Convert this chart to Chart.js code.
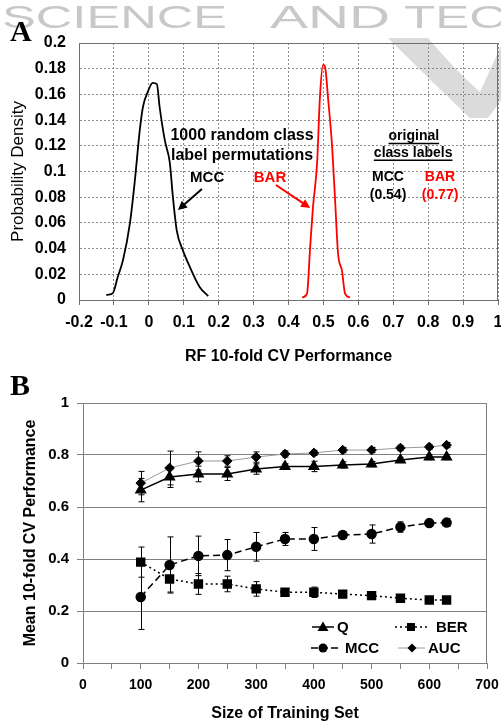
<!DOCTYPE html>
<html lang="en">
<head>
    <meta charset="UTF-8">
    <title>RF permutation test and learning curves</title>
    <script src="https://cdn.jsdelivr.net/npm/chart.js@4.4.0/dist/chart.umd.min.js"></script>
    <style>
        body {
            margin: 0;
            background: #fff;
        }
        canvas {
            display: block;
        }
        .tag {
            position: absolute;
            left: 10px;
            font: bold 30px "Liberation Serif", "Times New Roman", serif;
            line-height: 30px;
            color: #000;
        }
    </style>
</head>
<body>
<canvas id="densityChart" width="501" height="372"></canvas>
<canvas id="curveChart" width="501" height="351"></canvas>
<div class="tag" style="top:16px">A</div>
<div class="tag" style="top:370px">B</div>
<script>
    // Panel A: density of RF 10-fold CV performance over 1000 label permutations
    const mccPermX = [-0.122, -0.104, -0.089, -0.074, -0.054, -0.040, -0.026, -0.017, -0.003, 0.011,
                      0.023, 0.031, 0.046, 0.060, 0.069, 0.080, 0.097, 0.117, 0.146, 0.170];
    const mccPermY = [0.004, 0.005, 0.018, 0.031, 0.060, 0.093, 0.132, 0.150, 0.162, 0.169,
                      0.168, 0.150, 0.124, 0.107, 0.080, 0.054, 0.039, 0.026, 0.010, 0.003];
    const barPermX = [0.439, 0.453, 0.462, 0.470, 0.482, 0.490, 0.499, 0.505, 0.513, 0.525,
                      0.533, 0.542, 0.553, 0.562, 0.576];
    const barPermY = [0.002, 0.005, 0.041, 0.072, 0.107, 0.158, 0.183, 0.181, 0.158, 0.119,
                      0.080, 0.036, 0.023, 0.005, 0.002];

    // Panel B: mean 10-fold CV performance vs training set size
    const trainSizes = [100, 150, 200, 250, 300, 350, 400, 450, 500, 550, 600, 630];
    const qMean   = [0.665, 0.715, 0.727, 0.727, 0.746, 0.756, 0.756, 0.762, 0.765, 0.781, 0.792, 0.792];
    const qErr    = [0.045, 0.040, 0.030, 0.025, 0.020, 0.010, 0.020, 0.012, 0.010, 0.010, 0.010, 0.010];
    const berMean = [0.388, 0.323, 0.304, 0.304, 0.285, 0.272, 0.272, 0.265, 0.259, 0.249, 0.242, 0.242];
    const berErr  = [0.058, 0.050, 0.040, 0.030, 0.028, 0.010, 0.020, 0.010, 0.015, 0.008, 0.008, 0.008];
    const mccMean = [0.254, 0.377, 0.412, 0.415, 0.447, 0.477, 0.477, 0.492, 0.496, 0.523, 0.538, 0.540];
    const mccErr  = [0.125, 0.108, 0.076, 0.060, 0.055, 0.025, 0.044, 0.012, 0.035, 0.020, 0.012, 0.015];
    const aucMean = [0.692, 0.750, 0.777, 0.777, 0.792, 0.804, 0.808, 0.819, 0.819, 0.827, 0.831, 0.838];
    const aucErr  = [0.045, 0.065, 0.035, 0.020, 0.020, 0.012, 0.010, 0.010, 0.010, 0.010, 0.010, 0.010];

    const FONT = '"Liberation Sans", Arial, sans-serif';
    const toPoints = (xs, ys) => xs.map((x, i) => ({ x: x, y: ys[i] }));
    const trim = v => Number(v.toFixed(2)).toString();
    // keep the plot area where the axis boxes put it (no extra room for edge labels)
    const noEdgePad = s => { s.paddingLeft = 0; s.paddingRight = 0; };

    // watermark in the scanned page header
    function drawWatermark(ctx) {
        ctx.save();
        ctx.fillStyle = 'rgba(195,195,195,0.6)';
        ctx.beginPath();
        ctx.moveTo(388, 38);
        ctx.lineTo(428, 38);
        ctx.quadraticCurveTo(455, 70, 480, 92);
        ctx.lineTo(501, 46);
        ctx.lineTo(501, 100);
        ctx.lineTo(488, 118);
        ctx.lineTo(470, 118);
        ctx.quadraticCurveTo(425, 75, 388, 38);
        ctx.closePath();
        ctx.fill();
        ctx.fillStyle = 'rgba(190,190,190,0.85)';
        ctx.font = '32px ' + FONT;
        [['SCIENCE', 2, 227], ['AND', 270, 390], ['TEC', 404, 506]].forEach(([w, x0, x1]) => {
            const m = ctx.measureText(w).width;
            ctx.setTransform((x1 - x0) / m, 0, 0, 1, x0, 28);
            ctx.fillText(w, 0, 0);
        });
        ctx.restore();
        ctx.beginPath();
    }

    function drawArrow(ctx, x1, y1, x2, y2, color) {
        const a = Math.atan2(y2 - y1, x2 - x1);
        ctx.save();
        ctx.setLineDash([]);
        ctx.strokeStyle = color;
        ctx.fillStyle = color;
        ctx.lineWidth = 2;
        ctx.beginPath();
        ctx.moveTo(x1, y1);
        ctx.lineTo(x2 - 6 * Math.cos(a), y2 - 6 * Math.sin(a));
        ctx.stroke();
        ctx.beginPath();
        ctx.moveTo(x2, y2);
        ctx.lineTo(x2 - 9 * Math.cos(a) + 4.5 * Math.sin(a), y2 - 9 * Math.sin(a) - 4.5 * Math.cos(a));
        ctx.lineTo(x2 - 9 * Math.cos(a) - 4.5 * Math.sin(a), y2 - 9 * Math.sin(a) + 4.5 * Math.cos(a));
        ctx.closePath();
        ctx.fill();
        ctx.restore();
    }

    function drawFrame(ctx, a, color) {
        ctx.save();
        ctx.setLineDash([]);
        ctx.strokeStyle = color;
        ctx.lineWidth = 1;
        ctx.beginPath();
        ctx.moveTo(a.left, a.top + 0.5);
        ctx.lineTo(a.right - 0.5, a.top + 0.5);
        ctx.lineTo(a.right - 0.5, a.bottom);
        ctx.stroke();
        ctx.restore();
    }

    // Panel A watermark, frame and annotations (placed in data units)
    const notesA = {
        id: 'notesA',
        beforeDraw(chart) { drawWatermark(chart.ctx); },
        afterDraw(chart) {
            drawFrame(chart.ctx, chart.chartArea, '#707070');
            const { ctx, scales: { x, y } } = chart;
            const px = v => x.getPixelForValue(v), py = v => y.getPixelForValue(v);
            ctx.save();
            ctx.textAlign = 'center';
            ctx.textBaseline = 'middle';
            ctx.fillStyle = '#000';
            ctx.font = 'bold 16px ' + FONT;
            ctx.fillText('1000 random class', px(0.267), py(0.1276));
            ctx.fillText('label permutations', px(0.267), py(0.112));
            ctx.font = 'bold 15px ' + FONT;
            ctx.fillText('MCC', px(0.167), py(0.095));
            ctx.fillStyle = '#ff0000';
            ctx.fillText('BAR', px(0.347), py(0.095));
            drawArrow(ctx, px(0.152), py(0.0864), px(0.0835), py(0.070), '#000');
            drawArrow(ctx, px(0.364), py(0.0895), px(0.462), py(0.0716), '#ff0000');

            ctx.font = 'bold 14px ' + FONT;
            ctx.fillStyle = '#000';
            ctx.strokeStyle = '#000';
            ctx.lineWidth = 1.5;
            ctx.setLineDash([]);
            [['original', 0.759, 0.1276], ['class labels', 0.757, 0.1145]].forEach(([t, vx, vy]) => {
                const w = ctx.measureText(t).width;
                ctx.fillText(t, px(vx), py(vy));
                ctx.beginPath();
                ctx.moveTo(px(vx) - w / 2, py(vy) + 7.5);
                ctx.lineTo(px(vx) + w / 2, py(vy) + 7.5);
                ctx.stroke();
            });
            ctx.fillText('MCC', px(0.685), py(0.0957));
            ctx.fillText('(0.54)', px(0.685), py(0.0817));
            ctx.fillStyle = '#ff0000';
            ctx.fillText('BAR', px(0.834), py(0.0957));
            ctx.fillText('(0.77)', px(0.834), py(0.0817));
            ctx.restore();
        }
    };

    new Chart(document.getElementById('densityChart'), {
        type: 'scatter',
        data: {
            datasets: [{
                label: 'MCC',
                data: toPoints(mccPermX, mccPermY),
                showLine: true,
                borderColor: '#000',
                borderWidth: 1.8,
                pointRadius: 0,
                cubicInterpolationMode: 'monotone'
            }, {
                label: 'BAR',
                data: toPoints(barPermX, barPermY),
                showLine: true,
                borderColor: '#ff0000',
                borderWidth: 1.8,
                pointRadius: 0,
                cubicInterpolationMode: 'monotone'
            }]
        },
        options: {
            responsive: false,
            animation: false,
            layout: { padding: { top: 43, right: 3, left: 0, bottom: 0 } },
            plugins: { legend: { display: false }, tooltip: { enabled: false } },
            scales: {
                x: {
                    type: 'linear', min: -0.2, max: 1,
                    afterFit: s => { s.height = 72; noEdgePad(s); },
                    ticks: {
                        stepSize: 0.1, autoSkip: false, maxRotation: 0, padding: 8,
                        color: '#000', font: { family: FONT, size: 16, weight: 'bold' },
                        callback: v => trim(v)
                    },
                    grid: { color: '#8c8c8c', tickColor: '#707070', tickLength: 5 },
                    border: { color: '#707070', dash: [2, 2] },
                    title: {
                        display: true, text: 'RF 10-fold CV Performance', color: '#000',
                        font: { family: FONT, size: 16, weight: 'bold' },
                        padding: { top: 0, bottom: 6 }
                    }
                },
                y: {
                    min: 0, max: 0.2,
                    afterFit: s => { s.width = 79; },
                    ticks: {
                        stepSize: 0.02, padding: 13,
                        color: '#000', font: { family: FONT, size: 16, weight: 'bold' },
                        callback: v => trim(v)
                    },
                    grid: { color: '#8c8c8c', drawTicks: false },
                    border: { color: '#707070', dash: [2, 2] },
                    title: {
                        display: true, text: 'Probability Density', color: '#000',
                        font: { family: FONT, size: 17 },
                        padding: { top: 8, bottom: 0 }
                    }
                }
            }
        },
        plugins: [notesA]
    });

    // Panel B
    const errByLabel = { Q: qErr, BER: berErr, MCC: mccErr, AUC: aucErr };

    function marker(ctx, style, x, y) {
        ctx.beginPath();
        if (style === 'triangle') {
            ctx.moveTo(x, y - 5.5); ctx.lineTo(x + 5.5, y + 4); ctx.lineTo(x - 5.5, y + 4);
        } else if (style === 'rect') {
            ctx.rect(x - 4, y - 4, 8, 8);
        } else if (style === 'circle') {
            ctx.arc(x, y, 4.5, 0, Math.PI * 2);
        } else {
            ctx.moveTo(x, y - 4.5); ctx.lineTo(x + 4.5, y); ctx.lineTo(x, y + 4.5); ctx.lineTo(x - 4.5, y);
        }
        ctx.closePath();
        ctx.fill();
    }

    const extrasB = {
        id: 'extrasB',
        beforeDatasetsDraw(chart) {
            // error bars, drawn under the markers
            const { ctx, scales: { x, y } } = chart;
            ctx.save();
            ctx.setLineDash([]);
            ctx.strokeStyle = '#000';
            ctx.lineWidth = 1;
            chart.data.datasets.forEach(ds => {
                const errs = errByLabel[ds.label];
                ds.data.forEach((p, i) => {
                    const cx = Math.round(x.getPixelForValue(p.x)) + 0.5;
                    const top = y.getPixelForValue(p.y + errs[i]);
                    const bot = y.getPixelForValue(p.y - errs[i]);
                    ctx.beginPath();
                    ctx.moveTo(cx, top); ctx.lineTo(cx, bot);
                    ctx.moveTo(cx - 3, top); ctx.lineTo(cx + 3, top);
                    ctx.moveTo(cx - 3, bot); ctx.lineTo(cx + 3, bot);
                    ctx.stroke();
                });
            });
            ctx.restore();
        },
        afterDraw(chart) {
            drawFrame(chart.ctx, chart.chartArea, '#808080');
            const ctx = chart.ctx;
            const items = [
                { text: 'Q', style: 'triangle', dash: [], color: '#000', x1: 312, x2: 334, mx: 323, tx: 337, y: 255 },
                { text: 'BER', style: 'rect', dash: [2, 3], color: '#000', x1: 395, x2: 427, mx: 411, tx: 436, y: 255 },
                { text: 'MCC', style: 'circle', dash: [7, 3], color: '#000', x1: 311, x2: 340, mx: 323, tx: 345, y: 276 },
                { text: 'AUC', style: 'rectRot', dash: [], color: '#9a9a9a', x1: 398, x2: 425, mx: 412, tx: 428, y: 276 }
            ];
            ctx.save();
            ctx.font = 'bold 15px ' + FONT;
            ctx.textBaseline = 'middle';
            items.forEach(it => {
                ctx.strokeStyle = it.color;
                ctx.lineWidth = it.color === '#000' ? 1.5 : 1;
                ctx.setLineDash(it.dash);
                ctx.beginPath();
                ctx.moveTo(it.x1, it.y); ctx.lineTo(it.x2, it.y);
                ctx.stroke();
                ctx.setLineDash([]);
                ctx.fillStyle = '#000';
                marker(ctx, it.style, it.mx, it.y);
                ctx.fillText(it.text, it.tx, it.y + 1);
            });
            ctx.restore();
        }
    };

    new Chart(document.getElementById('curveChart'), {
        type: 'scatter',
        data: {
            datasets: [{
                label: 'Q',
                data: toPoints(trainSizes, qMean),
                showLine: true,
                borderColor: '#000', borderWidth: 1.5,
                pointStyle: 'triangle', pointRadius: 5.5,
                pointBackgroundColor: '#000', pointBorderColor: '#000'
            }, {
                label: 'BER',
                data: toPoints(trainSizes, berMean),
                showLine: true,
                borderColor: '#000', borderWidth: 1.5, borderDash: [2, 3],
                pointStyle: 'rect', pointRadius: 5.6,
                pointBackgroundColor: '#000', pointBorderColor: '#000'
            }, {
                label: 'MCC',
                data: toPoints(trainSizes, mccMean),
                showLine: true,
                borderColor: '#000', borderWidth: 1.5, borderDash: [7, 4],
                pointStyle: 'circle', pointRadius: 4.5,
                pointBackgroundColor: '#000', pointBorderColor: '#000'
            }, {
                label: 'AUC',
                data: toPoints(trainSizes, aucMean),
                showLine: true,
                borderColor: '#9a9a9a', borderWidth: 1,
                pointStyle: 'rectRot', pointRadius: 4.8,
                pointBackgroundColor: '#000', pointBorderColor: '#000'
            }]
        },
        options: {
            responsive: false,
            animation: false,
            layout: { padding: { top: 31, right: 14, left: 0, bottom: 0 } },
            plugins: { legend: { display: false }, tooltip: { enabled: false } },
            scales: {
                x: {
                    type: 'linear', min: 0, max: 700,
                    afterFit: s => { s.height = 60; noEdgePad(s); },
                    ticks: {
                        stepSize: 50, autoSkip: false, maxRotation: 0, padding: 8,
                        color: '#000', font: { family: FONT, size: 14, weight: 'bold' },
                        callback: v => (v % 100 === 0 ? String(v) : '')
                    },
                    grid: { drawOnChartArea: false, color: '#808080', tickLength: 6 },
                    border: { color: '#808080' },
                    title: {
                        display: true, text: 'Size of Training Set', color: '#000',
                        font: { family: FONT, size: 16, weight: 'bold' },
                        padding: { top: 0, bottom: 0 }
                    }
                },
                y: {
                    min: 0, max: 1,
                    afterFit: s => { s.width = 83; },
                    ticks: {
                        stepSize: 0.2, padding: 8,
                        color: '#000', font: { family: FONT, size: 15, weight: 'bold' },
                        callback: v => trim(v)
                    },
                    grid: { color: '#808080', tickLength: 6 },
                    border: { color: '#808080' },
                    title: {
                        display: true, text: 'Mean 10-fold CV Performance', color: '#000',
                        font: { family: FONT, size: 16, weight: 'bold' },
                        padding: { top: 21, bottom: 0 }
                    }
                }
            }
        },
        plugins: [extrasB]
    });
</script>
</body>
</html>
